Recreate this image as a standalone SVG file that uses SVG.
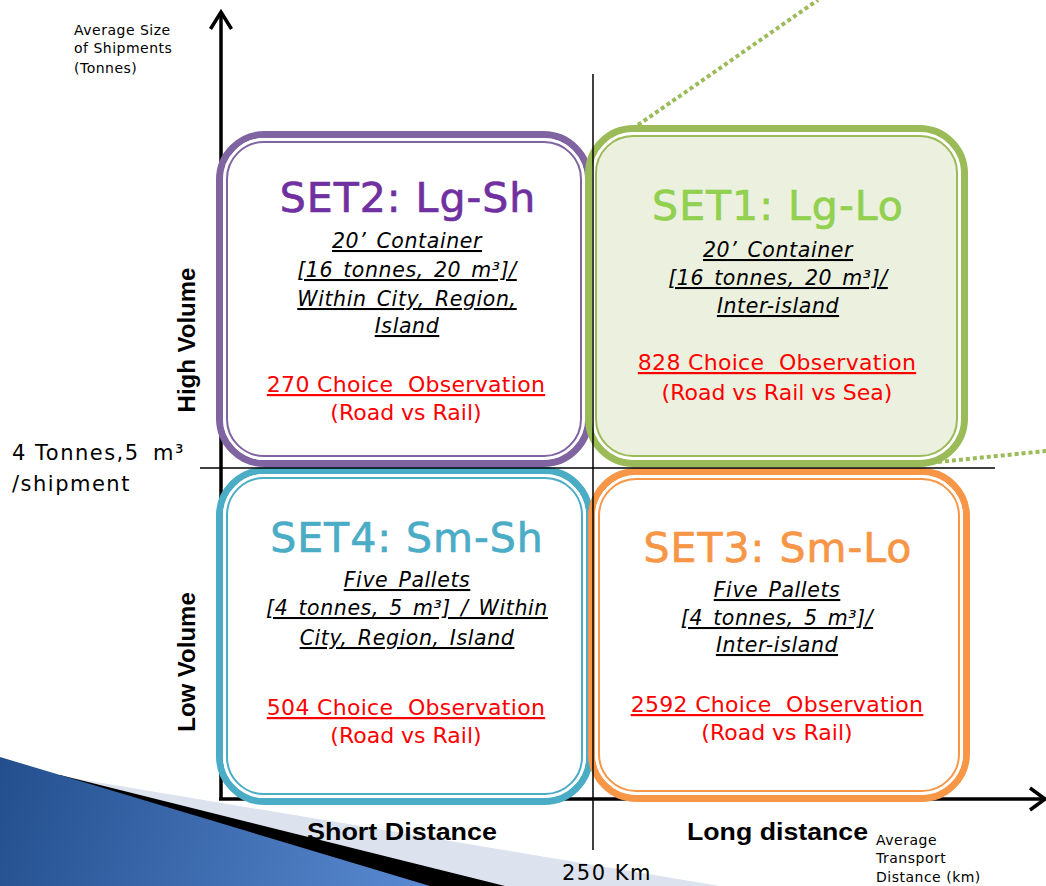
<svg xmlns="http://www.w3.org/2000/svg" width="1046" height="886" viewBox="0 0 1046 886">
<defs>
<linearGradient id="wedgeGrad" x1="0" y1="760" x2="430" y2="886" gradientUnits="userSpaceOnUse">
<stop offset="0" stop-color="#234F8E"/>
<stop offset="1" stop-color="#5A8AD2"/>
</linearGradient>
<style>
.outer{stroke-width:7}
.gap{fill:none;stroke:#FFFFFF;stroke-width:3}
.inner{fill:none;stroke-width:2}
.title{font-family:"DejaVu Sans",sans-serif;font-size:41px;text-anchor:middle;letter-spacing:1px;stroke-width:0.7px}
.spec{font-family:"DejaVu Sans",sans-serif;font-size:20.5px;font-style:italic;text-anchor:middle;fill:#000;text-decoration:underline;letter-spacing:0.6px;word-spacing:3px}
.obs{font-family:"DejaVu Sans",sans-serif;font-size:22px;text-anchor:middle;fill:#FF0000}
.u{text-decoration:underline;white-space:pre;letter-spacing:0.3px}
.small{font-family:"DejaVu Sans",sans-serif;font-size:14px;fill:#000;letter-spacing:0.5px}
.mid{font-family:"DejaVu Sans",sans-serif;font-size:21px;fill:#000;letter-spacing:1.5px}
.bold{font-family:"Liberation Sans",Arial,sans-serif;font-size:24px;font-weight:bold;fill:#000}
.axis{fill:none;stroke:#000;stroke-width:3.5}
.div{stroke:#000;stroke-width:1.5}
.dots{stroke:#9BBB59;stroke-width:4;stroke-dasharray:4 3}
</style>
</defs>
<rect width="1046" height="886" fill="#FFFFFF"/>
<g id="wedge">
<polygon points="60,776 720,886 0,886" fill="#DCE2EE"/>
<polygon points="60,775 505,886 0,886" fill="#000000"/>
<polygon points="0,757 430,886 0,886" fill="url(#wedgeGrad)"/>
</g>
<g id="axes">
<line class="axis" x1="221" y1="13" x2="221" y2="800"/>
<polyline class="axis" points="210.5,29 221,12 231.5,29"/>
<line class="axis" x1="219" y1="799" x2="1043" y2="799"/>
<polyline class="axis" points="1030,788 1045,799 1030,810"/>
</g>
<g id="set2">
<rect class="outer" x="219.5" y="134.5" width="369" height="329" rx="45" fill="#FFFFFF" stroke="#8064A2"/>
<rect class="gap" x="224.5" y="139.5" width="359" height="319" rx="40"/>
<rect class="inner" x="227" y="142" width="354" height="314" rx="37" stroke="#8064A2"/>
<text class="title" x="408" y="212" fill="#7030A0" stroke="#7030A0">SET2: Lg-Sh</text>
<text class="spec" x="407" y="248">20’ Container</text>
<text class="spec" x="407" y="277">[16 tonnes, 20 m³]/</text>
<text class="spec" x="407" y="306">Within City, Region,</text>
<text class="spec" x="407" y="333">Island</text>
<text class="obs u" x="406" y="392">270 Choice  Observation</text>
<text class="obs" x="406" y="420">(Road vs Rail)</text>
</g>
<g id="set1">
<rect class="outer" x="588.5" y="128.5" width="376" height="335" rx="45" fill="#EBF1DE" stroke="#9BBB59"/>
<rect class="gap" x="593.5" y="133.5" width="366" height="325" rx="40"/>
<rect class="inner" x="596" y="136" width="361" height="320" rx="37" stroke="#9BBB59"/>
<text class="title" x="778" y="220" fill="#92D050" stroke="#92D050">SET1: Lg-Lo</text>
<text class="spec" x="778" y="257">20’ Container</text>
<text class="spec" x="778" y="285">[16 tonnes, 20 m³]/</text>
<text class="spec" x="778" y="313">Inter-island</text>
<text class="obs u" x="777" y="370">828 Choice  Observation</text>
<text class="obs" x="777" y="400">(Road vs Rail vs Sea)</text>
</g>
<g id="set4">
<rect class="outer" x="219.5" y="470.5" width="370" height="331" rx="45" fill="#FFFFFF" stroke="#4BACC6"/>
<rect class="gap" x="224.5" y="475.5" width="360" height="321" rx="40"/>
<rect class="inner" x="227" y="478" width="355" height="316" rx="37" stroke="#4BACC6"/>
<text class="title" x="407" y="552" fill="#4BACC6" stroke="#4BACC6">SET4: Sm-Sh</text>
<text class="spec" x="407" y="587">Five Pallets</text>
<text class="spec" x="407" y="615">[4 tonnes, 5 m³] / Within</text>
<text class="spec" x="407" y="645">City, Region, Island</text>
<text class="obs u" x="406" y="715">504 Choice  Observation</text>
<text class="obs" x="406" y="743">(Road vs Rail)</text>
</g>
<g id="set3">
<rect class="outer" x="591.5" y="471.5" width="375" height="327" rx="45" fill="#FFFFFF" stroke="#F79646"/>
<rect class="gap" x="596.5" y="476.5" width="365" height="317" rx="40"/>
<rect class="inner" x="599" y="479" width="360" height="312" rx="37" stroke="#F79646"/>
<text class="title" x="778" y="562" fill="#F79646" stroke="#F79646">SET3: Sm-Lo</text>
<text class="spec" x="777" y="597">Five Pallets</text>
<text class="spec" x="777" y="625">[4 tonnes, 5 m³]/</text>
<text class="spec" x="777" y="652">Inter-island</text>
<text class="obs u" x="777" y="712">2592 Choice  Observation</text>
<text class="obs" x="777" y="740">(Road vs Rail)</text>
</g>
<g id="connectors">
<line class="div" x1="200" y1="468" x2="995" y2="468"/>
<line class="div" x1="593" y1="74" x2="593" y2="850"/>
<line class="dots" x1="638" y1="125" x2="818" y2="0"/>
<line class="dots" x1="938" y1="462" x2="1046" y2="451"/>
</g>
<g id="labels">
<text class="small" x="74" y="35">Average Size</text>
<text class="small" x="74" y="53">of Shipments</text>
<text class="small" x="74" y="73">(Tonnes)</text>
<text class="mid" x="12" y="460">4 Tonnes,5 <tspan x="153">m³</tspan></text>
<text class="mid" x="12" y="491">/shipment</text>
<text class="bold" transform="translate(195,340) rotate(-90)" text-anchor="middle">High Volume</text>
<text class="bold" transform="translate(195,662) rotate(-90)" text-anchor="middle">Low Volume</text>
<text class="bold" x="307" y="840" textLength="190" lengthAdjust="spacingAndGlyphs">Short Distance</text>
<text class="bold" x="687" y="840" textLength="181" lengthAdjust="spacingAndGlyphs">Long distance</text>
<text class="mid" x="562" y="880">250 Km</text>
<text class="small" x="876" y="845">Average</text>
<text class="small" x="876" y="863">Transport</text>
<text class="small" x="876" y="882">Distance (km)</text>
</g>
</svg>
